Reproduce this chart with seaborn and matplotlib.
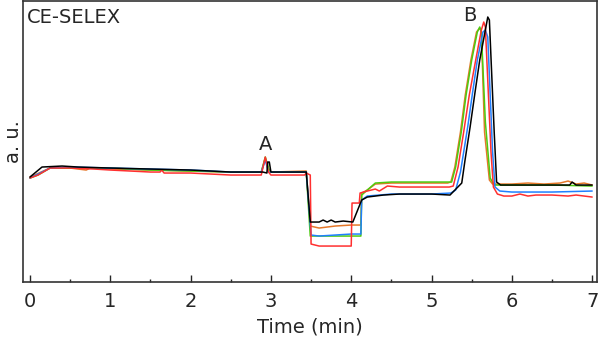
import numpy as np
import pandas as pd
import matplotlib
matplotlib.use("Agg")
import matplotlib.pyplot as plt
import seaborn as sns
from matplotlib.ticker import MultipleLocator

# values are in arbitrary units (a. u.)
black_t = [0.0, 0.15, 0.4, 0.6, 1.0, 1.5, 2.0, 2.5, 2.9, 2.95, 2.96, 2.98, 3.0, 3.2, 3.44, 3.49, 3.6, 3.65, 3.7, 3.75, 3.8, 3.9, 4.02, 4.13, 4.2, 4.4, 4.6, 5.0, 5.23, 5.376, 5.417, 5.48, 5.54, 5.60, 5.67, 5.70, 5.72, 5.78, 5.81, 5.86, 6.0, 6.5, 6.72, 6.75, 6.8, 7.0]
black_y = [105, 115, 116, 115, 114, 113, 112, 110, 110, 109, 120, 120, 110, 110, 110, 60, 60, 62, 60, 62, 60, 61, 60, 82, 85, 87, 88, 88, 87, 99, 122, 155, 189, 222, 252, 265, 262, 150, 100, 97, 97, 97, 97, 100, 97, 97]

red_t = [0.0, 0.1, 0.25, 0.5, 0.8, 1.0, 1.5, 1.62, 1.64, 1.67, 2.0, 2.5, 2.88, 2.93, 2.97, 3.0, 3.2, 3.42, 3.44, 3.49, 3.50, 3.6, 4.0, 4.01, 4.10, 4.11, 4.2, 4.3, 4.35, 4.45, 4.6, 5.0, 5.22, 5.27, 5.33, 5.40, 5.47, 5.55, 5.62, 5.65, 5.67, 5.74, 5.77, 5.82, 5.9, 6.0, 6.1, 6.2, 6.3, 6.5, 6.7, 6.8, 6.9, 7.0]
red_y = [104, 107, 114, 114, 113, 112, 110, 110, 112, 109, 109, 107, 107, 125, 110, 107, 107, 107, 109, 107, 38, 36, 36, 79, 79, 89, 91, 93, 91, 96, 95, 95, 95, 96, 115, 150, 187, 222, 252, 260, 255, 130, 95, 88, 86, 86, 88, 86, 87, 87, 86, 87, 86, 85]

blue_t = [0.0, 0.1, 0.25, 0.5, 1.0, 1.5, 2.0, 2.5, 2.88, 2.93, 2.97, 3.0, 3.44, 3.50, 3.6, 4.0, 4.12, 4.13, 4.2, 4.5, 5.0, 5.24, 5.30, 5.36, 5.40, 5.45, 5.51, 5.57, 5.64, 5.67, 5.70, 5.76, 5.79, 5.85, 6.0, 6.5, 7.0]
blue_y = [104, 108, 114, 115, 114, 113, 112, 110, 110, 122, 110, 110, 110, 47, 46, 48, 48, 82, 86, 88, 88, 89, 92, 110, 130, 155, 189, 222, 250, 252, 245, 130, 95, 91, 90, 90, 91]

green_t = [0.0, 0.1, 0.25, 0.5, 1.0, 1.5, 2.0, 2.5, 2.88, 2.93, 2.97, 3.0, 3.44, 3.49, 4.0, 4.12, 4.13, 4.2, 4.3, 4.5, 5.0, 5.22, 5.25, 5.30, 5.37, 5.43, 5.50, 5.57, 5.60, 5.62, 5.67, 5.73, 5.78, 6.0, 6.5, 7.0]
green_y = [104, 107, 114, 114, 114, 112, 111, 110, 110, 125, 114, 110, 110, 46, 46, 46, 87, 92, 99, 100, 100, 100, 100, 115, 150, 187, 222, 250, 255, 250, 160, 104, 97, 97, 97, 96]

orange_t = [0.0, 0.25, 0.5, 0.7, 0.75, 1.0, 1.5, 2.0, 2.5, 2.88, 2.93, 2.97, 3.0, 3.44, 3.49, 3.6, 3.8, 4.0, 4.12, 4.13, 4.2, 4.3, 4.5, 5.0, 5.2, 5.24, 5.29, 5.36, 5.42, 5.49, 5.56, 5.60, 5.62, 5.66, 5.72, 5.76, 6.0, 6.2, 6.4, 6.6, 6.7, 6.8, 6.9, 7.0]
orange_y = [105, 114, 114, 112, 114, 113, 112, 111, 110, 110, 124, 112, 110, 111, 56, 54, 56, 57, 57, 89, 92, 98, 99, 99, 99, 100, 115, 150, 187, 222, 250, 254, 250, 150, 102, 98, 98, 99, 98, 99, 101, 98, 99, 97]

series = [("orange", orange_t, orange_y), ("green", green_t, green_y),
          ("blue", blue_t, blue_y), ("red", red_t, red_y), ("black", black_t, black_y)]
frames = [pd.DataFrame({"t": t, "y": y, "run": name}) for name, t, y in series]
df = pd.concat(frames, ignore_index=True)

palette = {"orange": "#e5782a", "green": "#4ccc10", "blue": "#2080ff", "red": "#ff3030", "black": "#000000"}

sns.set_style("white")
plt.rcParams["font.family"] = ["DejaVu Sans"]

fig = plt.figure(figsize=(6.0, 3.39), dpi=100)
ax = fig.add_axes([0.0383, 0.168, 0.9567, 0.829])
sns.lineplot(data=df, x="t", y="y", hue="run", palette=palette, sort=False,
             estimator=None, units="run", ax=ax, linewidth=1.1, legend=False)

ax.set_xlim(-0.087, 7.06)
ax.set_ylim(0, 281)
ax.xaxis.set_major_locator(MultipleLocator(1))
ax.xaxis.set_minor_locator(MultipleLocator(0.5))
ax.set_yticks([])
ax.tick_params(axis="x", which="major", direction="in", length=5, width=1, labelsize=14, pad=7, bottom=True)
ax.tick_params(axis="x", which="minor", direction="in", length=2.5, width=1, bottom=True)
for s in ax.spines.values():
    s.set_color("#333333")
    s.set_linewidth(1.2)
ax.set_xlabel("Time (min)", fontsize=14, labelpad=5)
ax.set_ylabel("a. u.", fontsize=14, labelpad=0)
ax.text(0.007, 0.975, "CE-SELEX", transform=ax.transAxes, fontsize=14, va="top", ha="left")
ax.text(2.93, 128, "A", fontsize=14, ha="center", va="bottom")
ax.text(5.48, 257, "B", fontsize=14, ha="center", va="bottom")

fig.savefig("out.png", dpi=100)
